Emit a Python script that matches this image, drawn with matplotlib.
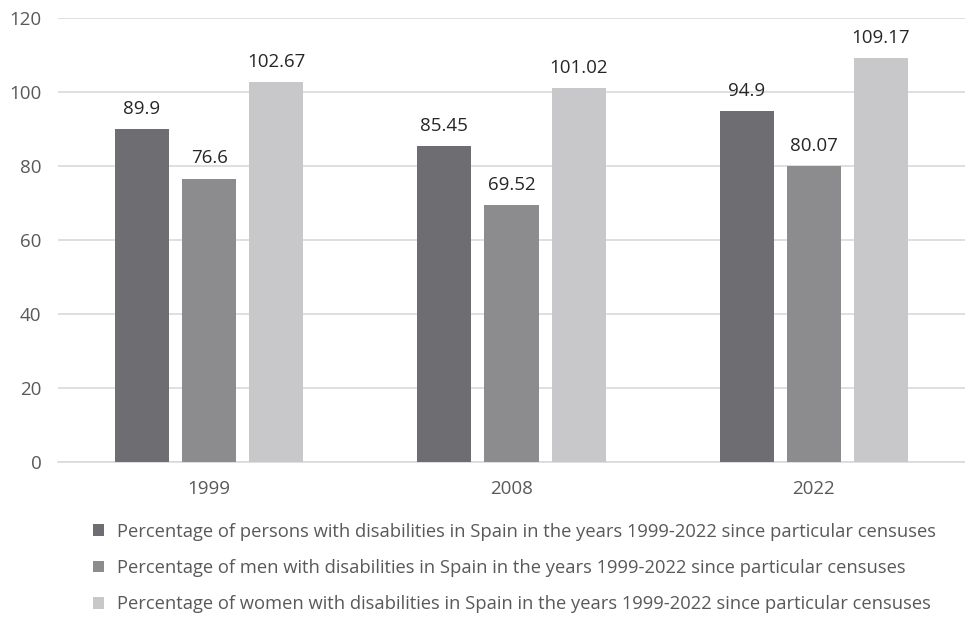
import numpy as np
import matplotlib.pyplot as plt
from matplotlib.patches import Patch

years = ['1999', '2008', '2022']
persons = [89.9, 85.45, 94.9]
men = [76.6, 69.52, 80.07]
women = [102.67, 101.02, 109.17]
series_labels = [
    'Percentage of persons with disabilities in Spain in the years 1999-2022 since particular censuses',
    'Percentage of men with disabilities in Spain in the years 1999-2022 since particular censuses',
    'Percentage of women with disabilities in Spain in the years 1999-2022 since particular censuses',
]
colors = ['#6e6e72', '#8c8c8f', '#c8c8ca']

plt.rcParams['font.family'] = ['Open Sans', 'DejaVu Sans']

fig = plt.figure(figsize=(9.65, 6.17), dpi=100)
ax = fig.add_axes([58/965, 1 - 462/617, 907/965, 444/617])

x = np.arange(len(years))
width = 0.179
step = 0.222
handles = []
for i, (vals, col) in enumerate(zip([persons, men, women], colors)):
    pos = x + (i - 1) * step
    ax.bar(pos, vals, width, color=col, zorder=3)
    for p, v in zip(pos, vals):
        ax.text(p, v + 3, f'{v:g}', ha='center', va='bottom', fontsize=13.5, color='#262626')
    handles.append(Patch(facecolor=col, label=series_labels[i]))

ax.set_xlim(-0.5, 2.5)
ax.set_ylim(0, 120)
ax.set_yticks(range(0, 121, 20))
ax.set_xticks(x)
ax.set_xticklabels(years)
ax.yaxis.grid(True, color='#d9d9d9', linewidth=1.2, zorder=0)
for s in ['top', 'right', 'left']:
    ax.spines[s].set_visible(False)
ax.spines['bottom'].set_color('#d9d9d9')
ax.spines['bottom'].set_linewidth(1.2)
ax.tick_params(axis='both', length=0, labelsize=13.5, colors='#595959')
ax.tick_params(axis='x', pad=13)
ax.tick_params(axis='y', pad=12)

leg = fig.legend(handles=handles, loc='upper left', bbox_to_anchor=(76/965, 1 - 506/617),
                 frameon=False, fontsize=13.25, handlelength=0.6, handleheight=0.6,
                 handletextpad=0.75, labelspacing=1.0)
for t in leg.get_texts():
    t.set_color('#595959')

fig.savefig('out.png', dpi=100)
